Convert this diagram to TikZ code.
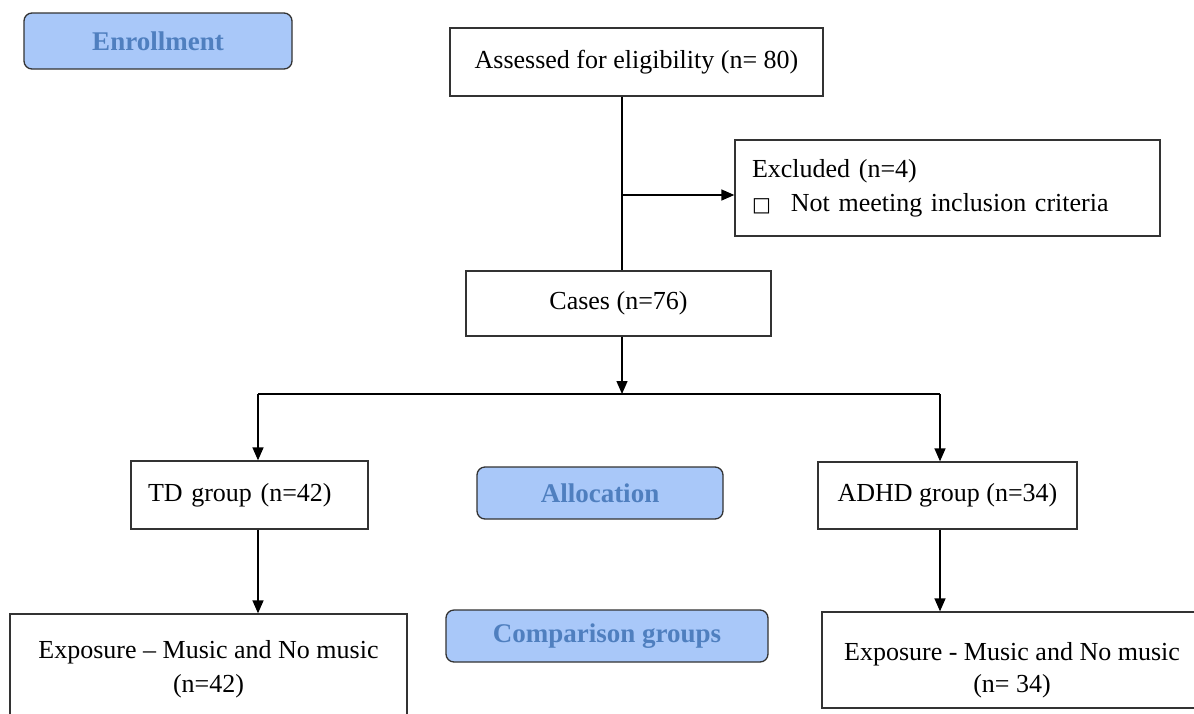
\documentclass[tikz,border=0pt]{standalone}
\usepackage{fontspec}
\setmainfont{Liberation Serif}
\newfontfamily\symfont{DejaVu Sans}
\usetikzlibrary{arrows.meta}
\definecolor{labfill}{HTML}{A9C8F9}
\definecolor{labtext}{HTML}{4F7FBF}
\definecolor{edge}{HTML}{333333}
\tikzset{
  box/.style={draw=edge, line width=1.3pt, inner sep=0pt, fill=white,
    font=\fontsize{26}{34}\selectfont, align=center},
  lbox/.style={box, align=left, inner xsep=17pt},
  phase/.style={draw=edge, line width=1.3pt, fill=labfill, rounded corners=8pt,
    text=labtext, font=\fontsize{27}{30}\selectfont\bfseries, inner sep=0pt},
  conn/.style={line width=1.4pt, draw=black},
  arr/.style={conn, -{Triangle[length=13pt,width=11pt]}}
}
\begin{document}
\begin{tikzpicture}[x=1pt,y=-1pt]
\useasboundingbox (0,0) rectangle (1194,713);
\clip (0,0) rectangle (1194,713);
\fill[white] (0,0) rectangle (1194,713);

% phase labels
\node[phase, minimum width=268pt, minimum height=56pt] (enroll) at (158,41) {Enrollment};
\node[phase, minimum width=246pt, minimum height=52pt] (alloc) at (600,493) {Allocation};
\node[phase, minimum width=322pt, minimum height=52pt] (comp) at (607,636) {Comparison groups};

% boxes
\node[box, minimum width=373pt, minimum height=68pt] (assess) at (636.5,62) {Assessed for eligibility (n= 80)};
\node[lbox, text width=391pt, minimum height=96pt] (excl) at (947.5,188)
  {Excluded (n=4)\\{\symfont\fontsize{20}{20}\selectfont □}\hspace{20pt}Not meeting inclusion criteria};
\node[box, minimum width=305pt, minimum height=65pt] (cases) at (618.5,303.5) {Cases (n=76)};
\node[lbox, text width=203pt, minimum height=68pt] (td) at (249.5,495) {TD group (n=42)};
\node[box, minimum width=259pt, minimum height=67pt] (adhd) at (947.5,495.5) {ADHD group (n=34)};
\node[box, minimum width=397pt, minimum height=111pt] (expL) at (208.5,669.5)
  {Exposure -- Music and No music\\(n=42)};
\node[box, minimum width=380pt, minimum height=96pt] (expR) at (1012,660)
  {\raisebox{-15.5pt}[0pt][0pt]{\begin{tabular}{@{}c@{}}Exposure - Music and No music\\[-2pt](n= 34)\end{tabular}}};

% connector coordinates
\coordinate (sp) at (622,195);
\coordinate (bc) at (622,394);
\coordinate (bl) at (258,394);
\coordinate (brr) at (940,394);

\draw[conn] (assess.south -| sp) -- (cases.north -| sp);
\draw[arr] (sp) -- (sp -| excl.west);
\draw[arr] (cases.south -| bc) -- (bc);
\draw[conn] (bl) -- (brr);
\draw[arr] (bl) -- (td.north -| bl);
\draw[arr] (brr) -- (adhd.north -| brr);
\draw[arr] (td.south -| bl) -- (expL.north -| bl);
\draw[arr] (adhd.south -| brr) -- (expR.north -| brr);
\end{tikzpicture}
\end{document}
